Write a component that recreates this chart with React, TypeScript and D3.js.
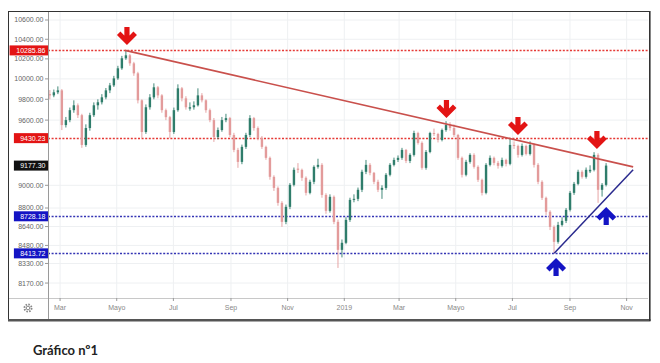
import React, { useEffect, useRef } from 'react';
import * as d3 from 'd3';

// open, high, low, close
type Candle = [number, number, number, number];

const candles: Candle[] = [
  [9850, 9890, 9800, 9838], [9838, 9895, 9820, 9868], [9868, 9926, 9850, 9887], [9887, 9900, 9506, 9553],
  [9553, 9630, 9530, 9600], [9600, 9720, 9580, 9695], [9695, 9790, 9670, 9742], [9742, 9760, 9620, 9647],
  [9647, 9660, 9340, 9367], [9367, 9560, 9350, 9525], [9525, 9670, 9500, 9647], [9647, 9770, 9630, 9742],
  [9742, 9800, 9700, 9771], [9771, 9850, 9750, 9819], [9819, 9910, 9800, 9887], [9887, 9960, 9860, 9936],
  [9936, 10030, 9920, 10005], [10005, 10130, 9990, 10105], [10105, 10230, 10090, 10206], [10206, 10286, 10190, 10236],
  [10236, 10250, 10130, 10155], [10155, 10170, 10030, 10055], [10055, 10070, 9760, 9790], [9790, 9800, 9432, 9488],
  [9488, 9750, 9470, 9723], [9723, 9850, 9700, 9819], [9819, 9956, 9800, 9917], [9917, 9930, 9810, 9838],
  [9838, 9850, 9670, 9695], [9695, 9710, 9600, 9628], [9628, 9640, 9430, 9488], [9488, 9720, 9470, 9695],
  [9695, 9946, 9680, 9907], [9907, 9920, 9780, 9809], [9809, 9830, 9700, 9723], [9710, 9770, 9690, 9723],
  [9723, 9780, 9700, 9742], [9742, 9907, 9730, 9838], [9838, 9860, 9770, 9790], [9790, 9800, 9670, 9695],
  [9695, 9710, 9580, 9600], [9600, 9620, 9395, 9441], [9441, 9530, 9420, 9506], [9506, 9630, 9490, 9600],
  [9600, 9660, 9580, 9619], [9619, 9630, 9440, 9460], [9460, 9480, 9300, 9321], [9321, 9340, 9157, 9211],
  [9211, 9370, 9190, 9349], [9349, 9480, 9330, 9460], [9460, 9647, 9440, 9619], [9619, 9630, 9500, 9525],
  [9525, 9540, 9410, 9432], [9432, 9450, 9330, 9349], [9349, 9360, 9230, 9248], [9248, 9260, 9050, 9076],
  [9076, 9090, 8950, 8977], [8977, 8990, 8820, 8845], [8845, 8860, 8637, 8680], [8680, 8830, 8660, 8810],
  [8810, 9020, 8790, 9004], [9004, 9160, 8990, 9139], [9150, 9200, 9110, 9139], [9139, 9150, 9040, 9067],
  [9067, 9080, 8910, 8933], [8933, 9050, 8920, 9031], [9031, 9180, 9010, 9166], [9166, 9240, 9150, 9184],
  [9184, 9200, 8890, 8915], [8915, 8930, 8750, 8775], [8775, 8920, 8760, 8898], [8898, 8910, 8660, 8680],
  [8680, 8700, 8293, 8443], [8443, 8530, 8380, 8502], [8502, 8720, 8490, 8697], [8697, 8890, 8680, 8871],
  [8871, 8920, 8850, 8880], [8880, 8980, 8860, 8960], [8960, 9140, 8940, 9121], [9121, 9229, 9100, 9184],
  [9184, 9200, 9090, 9112], [9112, 9120, 9010, 9031], [9031, 9050, 8940, 8960], [8960, 9000, 8880, 8977],
  [8977, 9110, 8960, 9094], [9094, 9200, 9080, 9184], [9184, 9250, 9170, 9229], [9229, 9270, 9210, 9248],
  [9248, 9340, 9230, 9321], [9321, 9330, 9200, 9220], [9220, 9290, 9200, 9275], [9275, 9500, 9260, 9478],
  [9478, 9490, 9370, 9386], [9386, 9400, 9140, 9157], [9157, 9320, 9140, 9302], [9302, 9490, 9290, 9478],
  [9478, 9520, 9450, 9469], [9469, 9480, 9390, 9413], [9413, 9520, 9400, 9506], [9506, 9590, 9490, 9553],
  [9553, 9580, 9500, 9525], [9525, 9560, 9440, 9460], [9460, 9470, 9230, 9248], [9248, 9260, 9070, 9094],
  [9094, 9230, 9080, 9211], [9211, 9290, 9195, 9275], [9275, 9290, 9150, 9166], [9166, 9180, 9030, 9049],
  [9049, 9060, 8910, 8933], [8933, 9200, 8920, 9184], [9184, 9270, 9170, 9248], [9248, 9260, 9180, 9202],
  [9202, 9220, 9150, 9175], [9175, 9250, 9160, 9229], [9229, 9240, 9170, 9193], [9193, 9430, 9180, 9367],
  [9367, 9400, 9330, 9358], [9358, 9370, 9250, 9275], [9275, 9380, 9260, 9358], [9358, 9370, 9270, 9284],
  [9284, 9400, 9270, 9367], [9367, 9380, 9160, 9184], [9184, 9200, 9010, 9031], [9031, 9045, 8870, 8889],
  [8889, 8900, 8740, 8767], [8767, 8780, 8610, 8637], [8637, 8650, 8413.72, 8510], [8510, 8680, 8495, 8654],
  [8654, 8720, 8640, 8689], [8689, 8800, 8670, 8784], [8784, 8950, 8770, 8933], [8933, 9030, 8915, 9013],
  [9013, 9140, 9000, 9121], [9121, 9135, 9060, 9076], [9076, 9160, 9060, 9139], [9125, 9180, 9110, 9139],
  [9139, 9300, 9125, 9275], [9275, 9290, 8845, 8960], [8960, 9020, 8900, 9004], [9004, 9200, 8990, 9177.3],
];

const firstCandleDay = '2018-02-18';
const candleStepHours = 103.4;

const monthTicks = [
  '2018-03-01', '2018-05-01', '2018-07-01', '2018-09-01', '2018-11-01', '2019-01-01',
  '2019-03-01', '2019-05-01', '2019-07-01', '2019-09-01', '2019-11-01',
];
const monthLabels = ['Mar', 'Mayo', 'Jul', 'Sep', 'Nov', '2019', 'Mar', 'Mayo', 'Jul', 'Sep', 'Nov'];

const priceTicks = [10600, 10400, 10200, 10000, 9800, 9600, 9000, 8800, 8640, 8480, 8330, 8170];

const resistanceLevels = [10285.86, 9430.23];
const supportLevels = [8728.18, 8413.72];
const lastPrice = 9177.3;

const resistanceTrend: [string, number][] = [['2018-05-10', 10285.86], ['2019-11-08', 9166]];
const supportTrend: [string, number][] = [['2019-08-15', 8413.72], ['2019-11-08', 9139]];

// arrow tips
const topArrows: [string, number][] = [['2018-05-12', 10341], ['2019-04-21', 9620], ['2019-07-07', 9460], ['2019-09-30', 9329]];
const bottomArrows: [string, number][] = [['2019-08-17', 8375], ['2019-10-10', 8808]];

const W = 660;
const H = 363;
const plot = { left: 48, top: 11, right: 648, bottom: 298 };
const frame = { left: 8, top: 11, right: 649, bottom: 319 };

const UP = '#2f7d6b';
const DOWN = '#e39b9b';
const RED = '#e31414';
const BLUE = '#1414c4';
const AXIS_FONT = "'Liberation Sans', Arial, sans-serif";

export default function App() {
  const svgRef = useRef<SVGSVGElement>(null);

  useEffect(() => {
    if (!svgRef.current) return;
    const svg = d3.select(svgRef.current);
    svg.selectAll('*').remove();

    const parse = d3.timeParse('%Y-%m-%d');
    const start = parse(firstCandleDay) as Date;

    const x = d3.scaleTime()
      .domain([new Date(2018, 1, 16), new Date(2019, 10, 24)])
      .range([plot.left, plot.right]);
    const y = d3.scaleLog()
      .domain([10695, 8050])
      .range([plot.top, plot.bottom]);

    svg.append('rect').attr('width', W).attr('height', H).attr('fill', '#fff');

    svg.append('defs').append('clipPath').attr('id', 'plotClip')
      .append('rect')
      .attr('x', plot.left).attr('y', plot.top)
      .attr('width', plot.right - plot.left).attr('height', plot.bottom - plot.top);

    // grid
    const grid = svg.append('g');
    grid.selectAll('.vgrid')
      .data(monthTicks)
      .join('line')
      .attr('x1', d => x(parse(d) as Date)).attr('x2', d => x(parse(d) as Date))
      .attr('y1', plot.top).attr('y2', plot.bottom)
      .attr('stroke', '#eef0f2');
    grid.selectAll('.hgrid')
      .data(priceTicks)
      .join('line')
      .attr('x1', plot.left).attr('x2', plot.right)
      .attr('y1', d => y(d)).attr('y2', d => y(d))
      .attr('stroke', '#eef0f2');

    const body = svg.append('g').attr('clip-path', 'url(#plotClip)');

    // horizontal levels
    const levels = [
      ...resistanceLevels.map(v => ({ v, c: '#e53935' })),
      ...supportLevels.map(v => ({ v, c: '#3434b4' })),
    ];
    body.selectAll('.level')
      .data(levels)
      .join('line')
      .attr('x1', plot.left).attr('x2', plot.right)
      .attr('y1', d => Math.round(y(d.v)) + 0.5).attr('y2', d => Math.round(y(d.v)) + 0.5)
      .attr('stroke', d => d.c)
      .attr('stroke-width', 1.6)
      .attr('stroke-dasharray', '2,1.6');

    // candles
    const candleX = (i: number) => x(d3.timeHour.offset(start, Math.round(i * candleStepHours)));
    const cg = body.selectAll('.candle')
      .data(candles)
      .join('g');
    cg.append('line')
      .attr('x1', (_, i) => candleX(i)).attr('x2', (_, i) => candleX(i))
      .attr('y1', d => y(d[1])).attr('y2', d => y(d[2]))
      .attr('stroke', d => (d[3] >= d[0] ? UP : DOWN))
      .attr('stroke-width', 0.9);
    cg.append('rect')
      .attr('x', (_, i) => candleX(i) - 1.2)
      .attr('width', 2.4)
      .attr('y', d => y(Math.max(d[0], d[3])))
      .attr('height', d => Math.max(1, Math.abs(y(d[0]) - y(d[3]))))
      .attr('fill', d => (d[3] >= d[0] ? UP : DOWN));

    // trend lines
    const line = d3.line<[string, number]>()
      .x(d => x(parse(d[0]) as Date))
      .y(d => y(d[1]));
    svg.append('path').attr('d', line(resistanceTrend))
      .attr('fill', 'none').attr('stroke', '#c9504c').attr('stroke-width', 1.6);
    svg.append('path').attr('d', line(supportTrend))
      .attr('fill', 'none').attr('stroke', '#2a2a8e').attr('stroke-width', 1.5);

    // arrows (tip at origin, pointing down)
    const arrowPts = '-10,-10 -6.5,-13.5 -2.6,-9.6 -2.6,-18 2.6,-18 2.6,-9.6 6.5,-13.5 10,-10 0,0';
    svg.selectAll('.arrowDown')
      .data(topArrows)
      .join('polygon')
      .attr('points', arrowPts)
      .attr('transform', d => `translate(${x(parse(d[0]) as Date)},${y(d[1])})`)
      .attr('fill', RED);
    svg.selectAll('.arrowUp')
      .data(bottomArrows)
      .join('polygon')
      .attr('points', arrowPts)
      .attr('transform', d => `translate(${x(parse(d[0]) as Date)},${y(d[1])}) scale(1,-1)`)
      .attr('fill', BLUE);

    // x axis strip
    svg.append('line')
      .attr('x1', frame.left).attr('x2', plot.right)
      .attr('y1', plot.bottom + 0.5).attr('y2', plot.bottom + 0.5)
      .attr('stroke', '#c8c8c8');
    svg.selectAll('.xtick')
      .data(monthTicks)
      .join('line')
      .attr('x1', d => x(parse(d) as Date)).attr('x2', d => x(parse(d) as Date))
      .attr('y1', plot.bottom).attr('y2', plot.bottom + 3)
      .attr('stroke', '#999');
    svg.selectAll('.xlabel')
      .data(monthTicks)
      .join('text')
      .attr('x', d => x(parse(d) as Date))
      .attr('y', 310)
      .attr('text-anchor', 'middle')
      .attr('font-family', AXIS_FONT)
      .attr('font-size', 7)
      .attr('fill', '#888')
      .text((_, i) => monthLabels[i]);

    // y axis
    svg.append('line')
      .attr('x1', plot.left + 0.5).attr('x2', plot.left + 0.5)
      .attr('y1', frame.top).attr('y2', frame.bottom)
      .attr('stroke', '#9a9a9a');
    svg.selectAll('.ytick')
      .data(priceTicks)
      .join('line')
      .attr('x1', plot.left - 3).attr('x2', plot.left)
      .attr('y1', d => y(d)).attr('y2', d => y(d))
      .attr('stroke', '#999');
    svg.selectAll('.ylabel')
      .data(priceTicks)
      .join('text')
      .attr('x', plot.left - 4.5)
      .attr('y', d => y(d))
      .attr('dy', '0.35em')
      .attr('text-anchor', 'end')
      .attr('font-family', AXIS_FONT)
      .attr('font-size', 7)
      .attr('fill', '#666')
      .text(d => d3.format('.2f')(d));

    // price labels on axis
    const tags = [
      ...resistanceLevels.map(v => ({ v, c: RED })),
      { v: lastPrice, c: '#111' },
      ...supportLevels.map(v => ({ v, c: BLUE })),
    ];
    const tg = svg.selectAll('.tag').data(tags).join('g')
      .attr('transform', d => `translate(${plot.left},${y(d.v)})`);
    tg.append('rect')
      .attr('x', d => -(d3.format('.2f')(d.v).length * 4.3 + 4))
      .attr('y', -5)
      .attr('width', d => d3.format('.2f')(d.v).length * 4.3 + 4)
      .attr('height', 10)
      .attr('fill', d => d.c);
    tg.append('text')
      .attr('x', -2.5)
      .attr('dy', '0.35em')
      .attr('text-anchor', 'end')
      .attr('font-family', AXIS_FONT)
      .attr('font-size', 7)
      .attr('fill', '#fff')
      .text(d => d3.format('.2f')(d.v));

    // settings gear
    const gear = svg.append('g').attr('transform', 'translate(28,308)');
    gear.append('circle').attr('r', 3.6).attr('fill', 'none')
      .attr('stroke', '#888').attr('stroke-width', 1.8).attr('stroke-dasharray', '1.6,1.2');
    gear.append('circle').attr('r', 1.8).attr('fill', 'none')
      .attr('stroke', '#888').attr('stroke-width', 1);

    // frame
    svg.append('rect')
      .attr('x', frame.left + 0.5).attr('y', frame.top + 0.5)
      .attr('width', frame.right - frame.left).attr('height', frame.bottom - frame.top)
      .attr('fill', 'none').attr('stroke', '#333').attr('stroke-width', 1);
    svg.append('line')
      .attr('x1', frame.left).attr('x2', frame.right + 1.5)
      .attr('y1', frame.bottom + 1.2).attr('y2', frame.bottom + 1.2)
      .attr('stroke', '#555').attr('stroke-width', 2.4);
    svg.append('line')
      .attr('x1', frame.right + 0.8).attr('x2', frame.right + 0.8)
      .attr('y1', frame.top).attr('y2', frame.bottom + 2)
      .attr('stroke', '#333').attr('stroke-width', 1.6);

    svg.append('text')
      .attr('x', 33).attr('y', 355)
      .attr('font-family', 'Lato, sans-serif')
      .attr('font-weight', 700)
      .attr('font-size', 13)
      .attr('fill', '#222')
      .text('Gráfico nº1');
  }, []);

  return (
    <svg
      ref={svgRef}
      width={W}
      height={H}
      style={{ position: 'absolute', left: 0, top: 0, display: 'block' }}
    />
  );
}
